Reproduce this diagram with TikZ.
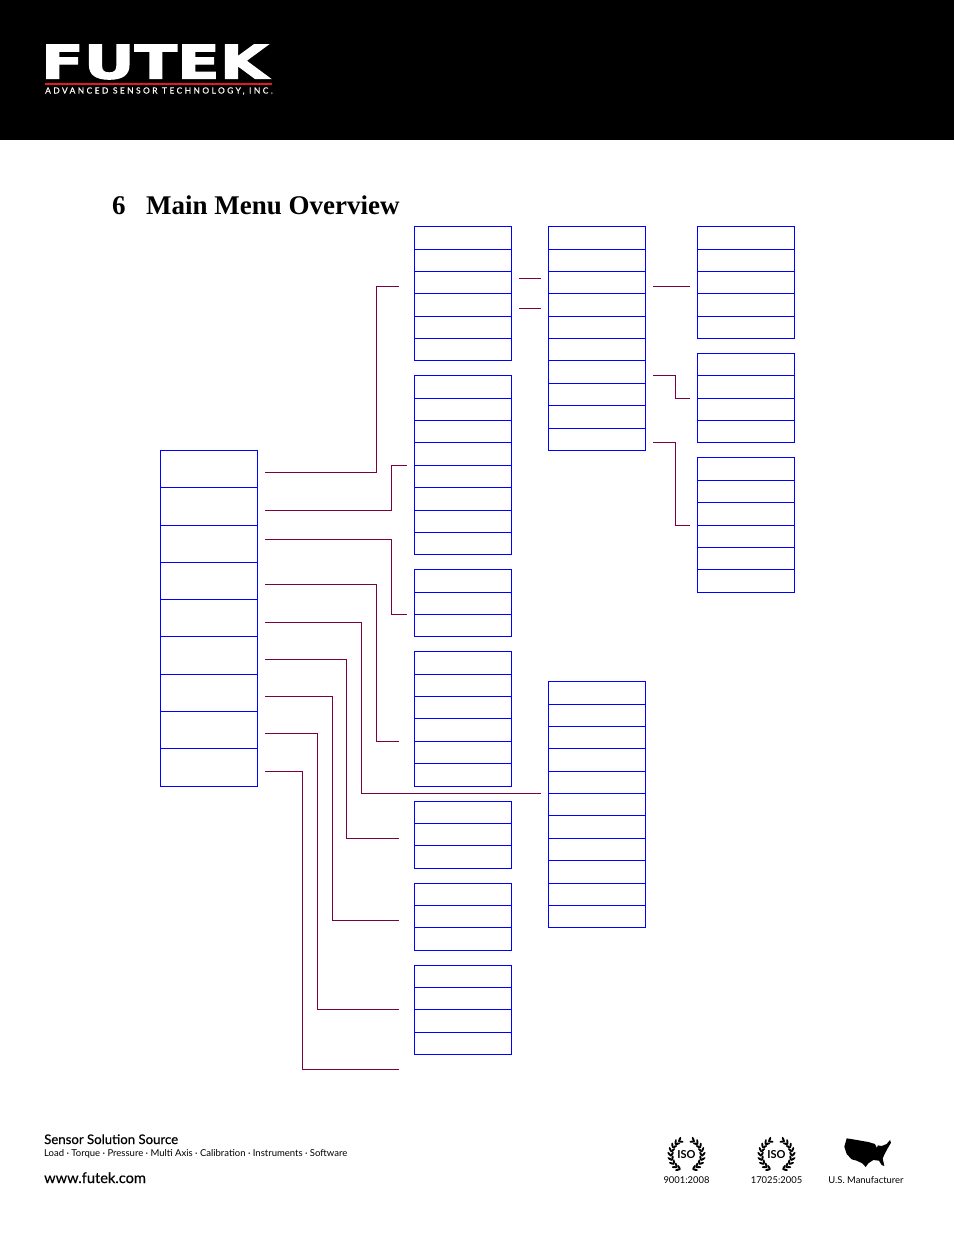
\documentclass[tikz,border=0pt]{standalone}
\usepackage{fontspec}
\setmainfont{Liberation Serif}
\newfontfamily\foot{Lato}
\newfontfamily\logofont[FakeBold=2.2]{DejaVu Sans Bold}
\newfontfamily\tagfont[LetterSpace=29,FakeBold=0.3]{Lato}
\newfontfamily\footbold[FakeBold=0.35]{Lato}
\usetikzlibrary{calc,shapes.geometric}
\definecolor{menublue}{RGB}{0,0,255}
\definecolor{wire}{RGB}{122,0,64}
\definecolor{logored}{RGB}{226,24,36}
\tikzset{
  cellbox/.style={draw=menublue,line width=1.1pt,rectangle,inner sep=0pt,outer sep=0pt,anchor=north west,minimum width=#1},
  link/.style={draw=wire,line width=1.1pt,line join=miter},
  leaf/.style={fill=black,draw=none,ellipse,inner sep=0pt,minimum width=5.4pt,minimum height=2.1pt},
  foottext/.style={inner sep=0pt,anchor=base west,text=black}
}
\def\nonevalue{none}
\newcommand{\menucol}[4]{% name, x, width, y list
  \foreach \yy [count=\k, remember=\yy as \lasty (initially none)] in {#4}{%
    \ifx\lasty\nonevalue\else
      \pgfmathsetmacro{\hh}{\yy-\lasty}%
      \node[cellbox=#3,minimum height=\hh pt] (#1\k) at (#2,\lasty) {};
    \fi
  }%
}
\newcommand{\wreath}[2]{% cx, name
  \foreach \a in {-60,-44,-28,-12,4,20,36,52,66}{
    \node[leaf,rotate=55-\a]  (#2A\a) at ($(#1,1155)+(\a:15.6)+(\a-55:2.4)$) {};
    \node[leaf,rotate=125-\a] (#2B\a) at ($(#1,1155)+(\a:15.6)+(\a-125:2.2)$) {};
    \node[leaf,rotate=125+\a] (#2C\a) at ($(#1,1155)+(180-\a:15.6)+(235-\a:2.4)$) {};
    \node[leaf,rotate=55+\a]  (#2D\a) at ($(#1,1155)+(180-\a:15.6)+(305-\a:2.2)$) {};
  }
  \node[inner sep=0pt,font=\foot\bfseries\fontsize{11}{11}\selectfont] (#2iso) at (#1,1154.5) {ISO};
}
\begin{document}
\begin{tikzpicture}[x=1pt,y=-1pt]
\useasboundingbox (0,0) rectangle (954,1235);
\fill[black] (0,0) rectangle (954,140);
% logo
\node[inner sep=0pt,anchor=south west,text=white] (logo) at (41,79.5)
  {\resizebox{227pt}{34pt}{\logofont FUTEK}};
\fill[logored] (45,82.8) rectangle (272,84.6);
\node[inner sep=0pt,anchor=base west,text=white,font=\tagfont\fontsize{8.4}{9}\selectfont] (tag) at (45,93.5)
  {ADVANCED SENSOR TECHNOLOGY, INC.};
% title
\node[inner sep=0pt,anchor=base west,font=\bfseries\fontsize{27}{30}\selectfont] (num) at (112,214) {6};
\node[inner sep=0pt,anchor=base west,font=\bfseries\fontsize{27}{30}\selectfont] (title) at (146,214) {Main Menu Overview};
% menus
\menucol{a}{160.5}{97}{450.5,487.5,525.5,562.5,599.5,636.5,674.5,711.5,748.5,786.5}
\menucol{ba}{414.5}{97}{226.5,249.5,271.5,293.5,316.5,338.5,360.5}
\menucol{bb}{414.5}{97}{375.5,398.5,420.5,442.5,465.5,487.5,510.5,532.5,554.5}
\menucol{bc}{414.5}{97}{569.5,592.5,614.5,636.5}
\menucol{bd}{414.5}{97}{651.5,674.5,696.5,718.5,741.5,763.5,786.5}
\menucol{be}{414.5}{97}{801.5,823.5,845.5,868.5}
\menucol{bf}{414.5}{97}{883.5,905.5,927.5,950.5}
\menucol{bg}{414.5}{97}{965.5,987.5,1009.5,1032.5,1054.5}
\menucol{ca}{548.5}{97}{226.5,249.5,271.5,293.5,316.5,338.5,360.5,383.5,405.5,428.5,450.5}
\menucol{cb}{548.5}{97}{681.5,704.5,726.5,748.5,771.5,793.5,815.5,838.5,860.5,883.5,905.5,927.5}
\menucol{da}{697.5}{97}{226.5,249.5,271.5,293.5,316.5,338.5}
\menucol{db}{697.5}{97}{353.5,375.5,398.5,420.5,442.5}
\menucol{dc}{697.5}{97}{457.5,480.5,502.5,525.5,547.5,569.5,592.5}
% connectors
\foreach \n/\xa/\ya/\xb/\yb/\xc in {
 1/265/472.5/376.5/286.5/399,
 2/265/510.5/391.5/465.5/407,
 3/265/539.5/391.5/614.5/407,
 4/265/584.5/376.5/741.5/399,
 5/265/622.5/361.5/793.5/541,
 6/265/659.5/346.5/838.5/399,
 7/265/696.5/332.5/920.5/399,
 8/265/733.5/317.5/1009.5/399,
 9/265/771.5/302.5/1069.5/399,
 10/653/375.5/675.5/398.5/690,
 11/653/442.5/675.5/525.5/690}{
  \coordinate (s\n) at (\xa,\ya);
  \coordinate (e\n) at (\xc,\yb);
  \draw[link] (s\n) -| (\xb,\yb) -- (e\n);
}
\foreach \n/\xa/\xb/\yy in {12/519/541/278.5,13/519/541/308.5,14/653/690/286.5}{
  \coordinate (s\n) at (\xa,\yy);
  \coordinate (e\n) at (\xb,\yy);
  \draw[link] (s\n) -- (e\n);
}
% footer
\node[foottext,font=\footbold\fontsize{13.2}{14}\selectfont] (f1) at (44,1144) {Sensor Solution Source};
\node[foottext,font=\foot\fontsize{9.5}{10}\selectfont] (f2) at (44,1156) {Load · Torque · Pressure · Multi Axis · Calibration · Instruments · Software};
\node[foottext,font=\footbold\fontsize{14.6}{15}\selectfont] (f3) at (44,1183) {www.futek.com};
\wreath{686.5}{p}
\wreath{776.5}{q}
\node[inner sep=0pt,font=\foot\fontsize{9.4}{10}\selectfont] (c1) at (686.5,1180) {9001:2008};
\node[inner sep=0pt,font=\foot\fontsize{9.4}{10}\selectfont] (c2) at (776.5,1180) {17025:2005};
\node[inner sep=0pt,font=\foot\fontsize{9.4}{10}\selectfont] (c3) at (866,1180) {U.S. Manufacturer};
\begin{scope}[shift={(835,1130)},x=0.3333pt,y=-0.3333pt]
\fill[black] (35,25)--(60,29)--(100,36)--(120,42)--(126,54)--(128,46)--(140,48)--(155,42)--(165,30)--(168,38)--(158,55)--(150,70)--(143,85)--(148,108)--(140,105)--(132,92)--(115,90)--(100,100)--(92,111)--(82,100)--(65,92)--(50,88)--(35,72)--(28,50)--cycle;
\end{scope}
\end{tikzpicture}
\end{document}
